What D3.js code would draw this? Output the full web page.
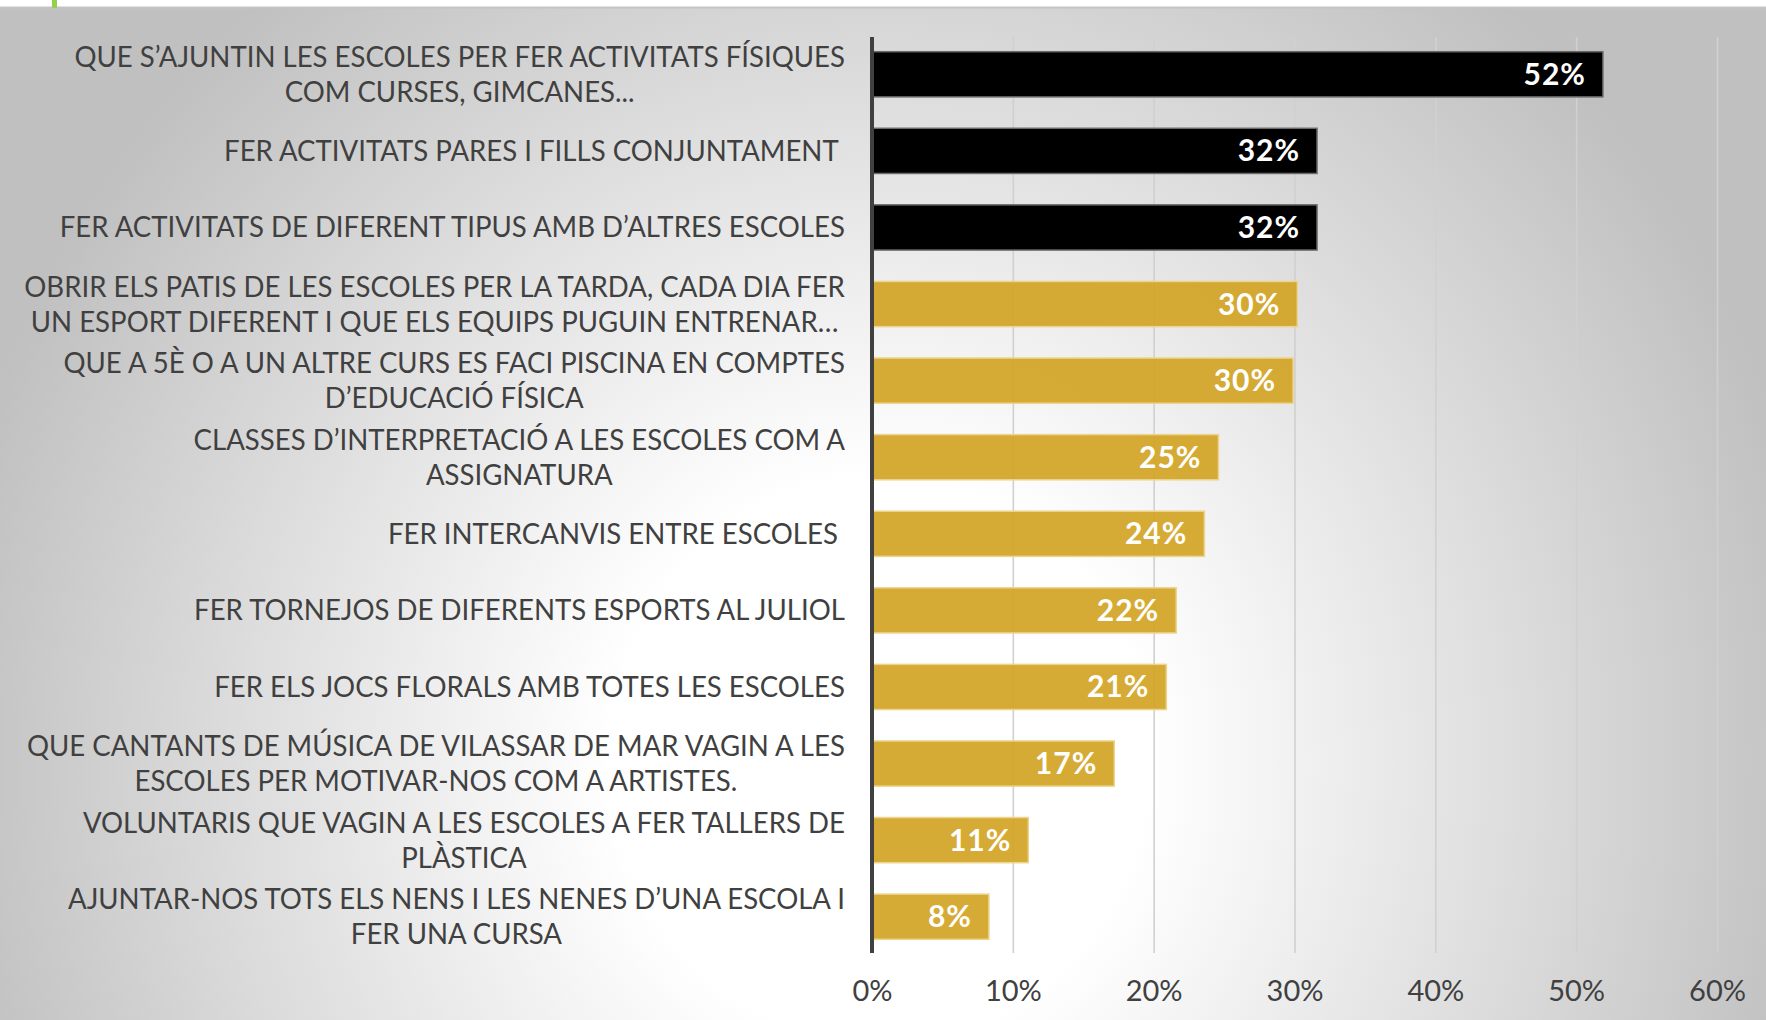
<!DOCTYPE html>
<html>
<head>
<meta charset="utf-8">
<script src="https://cdn.jsdelivr.net/npm/d3@7"></script>
<style>
  html, body { margin: 0; padding: 0; background: #fff; }
  svg { display: block; }
  text { white-space: pre; }
</style>
</head>
<body>
<svg id="chart" width="1766" height="1020"></svg>
<script>
// ---------- DATA ----------
const categories = [
  ["QUE S’AJUNTIN LES ESCOLES PER FER ACTIVITATS FÍSIQUES", "COM CURSES, GIMCANES..."],
  ["FER ACTIVITATS PARES I FILLS CONJUNTAMENT "],
  ["FER ACTIVITATS DE DIFERENT TIPUS AMB D’ALTRES ESCOLES"],
  ["OBRIR ELS PATIS DE LES ESCOLES PER LA TARDA, CADA DIA FER", "UN ESPORT DIFERENT I QUE ELS EQUIPS PUGUIN ENTRENAR…"],
  ["QUE A 5È O A UN ALTRE CURS ES FACI PISCINA EN COMPTES", "D’EDUCACIÓ FÍSICA"],
  ["CLASSES D’INTERPRETACIÓ A LES ESCOLES COM A", "ASSIGNATURA"],
  ["FER INTERCANVIS ENTRE ESCOLES "],
  ["FER TORNEJOS DE DIFERENTS ESPORTS AL JULIOL"],
  ["FER ELS JOCS FLORALS AMB TOTES LES ESCOLES"],
  ["QUE CANTANTS DE MÚSICA DE VILASSAR DE MAR VAGIN A LES", "ESCOLES PER MOTIVAR-NOS COM A ARTISTES."],
  ["VOLUNTARIS QUE VAGIN A LES ESCOLES A FER TALLERS DE", "PLÀSTICA"],
  ["AJUNTAR-NOS TOTS ELS NENS I LES NENES D’UNA ESCOLA I", "FER UNA CURSA"]
];
const values = [0.519, 0.316, 0.316, 0.302, 0.299, 0.246, 0.236, 0.216, 0.209, 0.172, 0.111, 0.083];
const highlightedCount = 3;   // first three answers are shown in black
const xTicks = [0, 0.1, 0.2, 0.3, 0.4, 0.5, 0.6];
const xDomain = [0, 0.6];

// ---------- LAYOUT / STYLE ----------
const W = 1766, H = 1020;
const plot = { left: 872, right: 1717, top: 37, bottom: 953 };
const bandRange = [36, 955];
const labelRight = 845;
const labelFont = "Lato, 'Open Sans', sans-serif";
const labelSize = 28;
const labelScaleX = 0.985;
const lineGap = 35;
const textColor = "#404040";
const black = "#000000", gold = "#D3A526";

const svg = d3.select("#chart");
const defs = svg.append("defs");

// background radial gradient
const bg = defs.append("radialGradient")
  .attr("id", "bgGrad")
  .attr("gradientUnits", "userSpaceOnUse")
  .attr("cx", 880).attr("cy", 760).attr("r", 1000)
  .attr("gradientTransform", "translate(880,760) scale(0.95,1.0) translate(-880,-760)");
bg.append("stop").attr("offset", 0).attr("stop-color", "#ffffff");
bg.append("stop").attr("offset", 0.28).attr("stop-color", "#ffffff");
bg.append("stop").attr("offset", 1).attr("stop-color", "#c0c0c0");

const gg = defs.append("linearGradient")
  .attr("id", "gridGrad")
  .attr("gradientUnits", "userSpaceOnUse")
  .attr("x1", 0).attr("y1", plot.top).attr("x2", 0).attr("y2", plot.bottom);
gg.append("stop").attr("offset", 0).attr("stop-color", "#d0d0d0");
gg.append("stop").attr("offset", 0.5).attr("stop-color", "#acacac");
gg.append("stop").attr("offset", 1).attr("stop-color", "#7c7c7c");

svg.append("rect").attr("width", W).attr("height", H).attr("fill", "url(#bgGrad)");
// top white strip + rule + green mark
svg.append("rect").attr("width", W).attr("height", 7).attr("fill", "#ffffff");
svg.append("line").attr("x1", 0).attr("x2", W).attr("y1", 7.5).attr("y2", 7.5)
  .attr("stroke", "#c4c4c4").attr("stroke-width", 2);
svg.append("rect").attr("x", 52).attr("y", 0).attr("width", 5).attr("height", 8).attr("fill", "#92D050");

// scales
const x = d3.scaleLinear().domain(xDomain).range([plot.left, plot.right]);
const y = d3.scaleBand().domain(d3.range(values.length)).range(bandRange)
  .paddingInner(0.41).paddingOuter(0.205);

// axis with gridlines
const fmt = d3.format(".0%");
const axis = d3.axisBottom(x).tickValues(xTicks).tickFormat(fmt)
  .tickSize(-(plot.bottom - plot.top)).tickPadding(0);
const ax = svg.append("g").attr("transform", `translate(0,${plot.bottom})`).call(axis);
ax.select(".domain").remove();
ax.selectAll(".tick line").attr("stroke", "url(#gridGrad)").attr("stroke-width", 1.6)
  .attr("opacity", d => d === 0 ? 0 : 1);
ax.selectAll(".tick text")
  .attr("y", 48).attr("dy", 0)
  .attr("fill", textColor)
  .style("font-family", labelFont)
  .style("font-size", "29px");

// bars
svg.append("g").selectAll("rect").data(values).join("rect")
  .attr("x", x(0))
  .attr("y", (d, i) => y(i))
  .attr("width", d => x(d) - x(0))
  .attr("height", y.bandwidth())
  .attr("fill", (d, i) => i < highlightedCount ? black : gold)
  .attr("fill-opacity", (d, i) => i < highlightedCount ? 1 : 0.93)
  .attr("stroke", (d, i) => i < highlightedCount ? "#6a6a6a" : "#ecd48e")
  .attr("stroke-width", 1.5);

// value labels
svg.append("g").selectAll("text").data(values).join("text")
  .attr("x", d => x(d) - 17)
  .attr("y", (d, i) => y(i) + y.bandwidth() / 2 + 10.5)
  .attr("text-anchor", "end")
  .attr("fill", "#ffffff")
  .style("font-family", labelFont)
  .style("font-weight", 700)
  .style("font-size", "30px")
  .style("letter-spacing", "1px")
  .text(d => fmt(d));

// vertical axis line
svg.append("line")
  .attr("x1", x(0)).attr("x2", x(0))
  .attr("y1", plot.top).attr("y2", plot.bottom)
  .attr("stroke", "#404040").attr("stroke-width", 4);

// category labels (multi-line, centred lines, block right aligned)
const lg = svg.append("g");
categories.forEach((lines, i) => {
  const cy = y(i) + y.bandwidth() / 2;
  const g = lg.append("g");
  const texts = lines.map((ln, k) => g.append("text")
    .attr("text-anchor", "middle")
    .attr("fill", textColor)
    .style("font-family", labelFont)
    .style("font-size", labelSize + "px")
    .text(ln));
  const widths = texts.map(t => t.node().getComputedTextLength() * labelScaleX);
  const maxW = d3.max(widths);
  const cx = labelRight - maxW / 2;
  const n = lines.length;
  texts.forEach((t, k) => {
    const ty = cy + (k - (n - 1) / 2) * lineGap + 10;
    t.attr("transform", `translate(${cx},${ty}) scale(${labelScaleX},1)`);
  });
});
</script>
</body>
</html>
